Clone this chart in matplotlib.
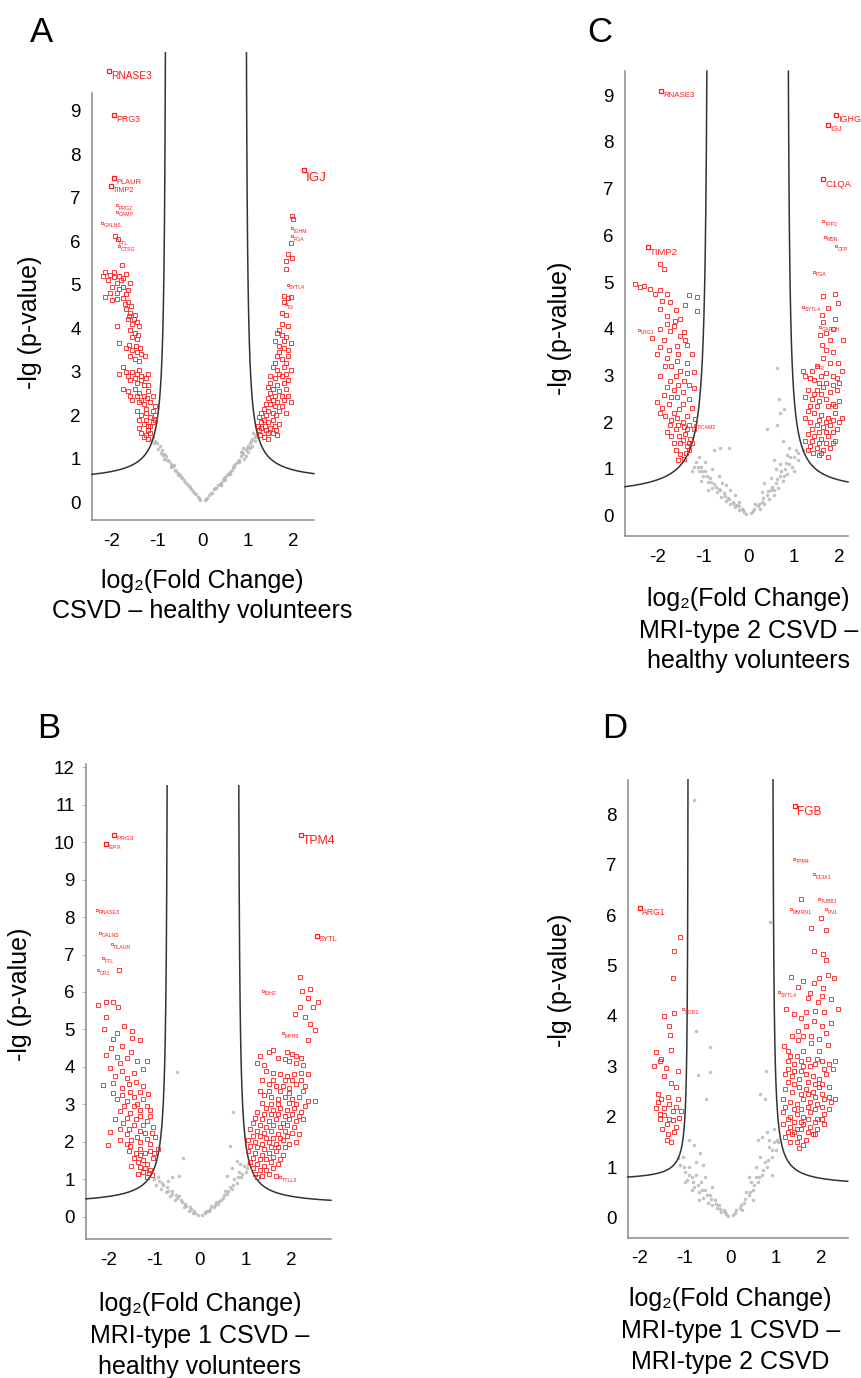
import numpy as np
import matplotlib
matplotlib.use("Agg")
import matplotlib.pyplot as plt
import matplotlib.transforms as mtransforms

plt.rcParams["font.family"] = ["Liberation Sans", "DejaVu Sans"]
plt.rcParams["axes.unicode_minus"] = False

FIG_W, FIG_H = 861, 1378

# ---------------- panel A: CSVD - healthy volunteers ----------------
A_BIG = [("RNASE3", -2.06, 9.92, 7.3), ("PRG3", -1.95, 8.90, 6.3),
         ("PLAUR", -1.95, 7.45, 5.4), ("TIMP2", -2.02, 7.26, 5.2),
         ("IGJ", 2.24, 7.63, 9.7)]
A_SMALL = [("PRG2", -1.90, 6.83), ("CAMP", -1.88, 6.68), ("GALNS", -2.23, 6.42),
           ("FTL", -1.90, 6.02), ("CTSG", -1.84, 5.88), ("IGHM", 1.97, 6.30),
           ("FGA", 1.97, 6.12), ("SYTL4", 1.88, 5.00), ("F2", 1.85, 4.55)]
A_RED_L = [(-1.93, 6.13), (-1.86, 6.05), (-1.79, 5.45),
           (-2.20, 5.20), (-2.05, 5.22), (-1.95, 5.18), (-1.85, 5.20), (-1.75, 5.15), (-1.70, 5.25),
           (-2.10, 5.10), (-1.90, 5.05), (-2.00, 4.95), (-1.85, 4.90), (-1.75, 4.95), (-1.65, 4.88),
           (-2.15, 4.72), (-2.00, 4.65), (-1.88, 4.68), (-1.75, 4.70), (-1.65, 4.60), (-1.72, 4.55),
           (-1.70, 4.45), (-1.60, 4.35), (-1.50, 4.30), (-1.65, 4.20), (-1.55, 4.10), (-1.45, 4.15),
           (-1.90, 4.05), (-1.60, 3.95), (-1.50, 3.90), (-1.42, 3.85), (-1.55, 3.80), (-1.45, 3.75),
           (-1.85, 3.65), (-1.70, 3.55), (-1.55, 3.50), (-1.45, 3.45), (-1.35, 3.40), (-1.60, 3.35),
           (-1.50, 3.30), (-1.40, 3.25), (-1.85, 2.95), (-1.75, 3.10), (-1.65, 2.90), (-1.55, 3.00),
           (-1.45, 2.95), (-1.35, 2.90), (-1.25, 2.85), (-1.60, 2.80), (-1.45, 2.75), (-1.30, 2.70),
           (-1.75, 2.60), (-1.65, 2.55), (-1.50, 2.60), (-1.40, 2.50), (-1.30, 2.45), (-1.20, 2.55),
           (-1.55, 2.35), (-1.40, 2.30), (-1.30, 2.25), (-1.15, 2.30), (-1.05, 2.20), (-1.45, 2.10),
           (-1.35, 2.00), (-1.25, 2.05), (-1.15, 1.95), (-1.05, 2.00), (-1.30, 1.80), (-1.20, 1.75),
           (-1.10, 1.85), (-1.35, 1.60), (-1.25, 1.55), (-1.15, 1.60),
           (-2.15, 5.30), (-1.95, 5.30), (-1.80, 5.10), (-1.60, 5.05), (-2.05, 4.80), (-1.90, 4.80),
           (-1.70, 4.78), (-1.58, 4.50), (-1.62, 4.28), (-1.52, 4.20), (-1.40, 4.05), (-1.48, 3.60),
           (-1.38, 3.55), (-1.62, 3.62), (-1.28, 3.35), (-1.70, 3.00), (-1.40, 3.05), (-1.20, 2.95),
           (-1.50, 2.85), (-1.35, 2.80), (-1.20, 2.70), (-1.60, 2.45), (-1.45, 2.45), (-1.22, 2.40),
           (-1.10, 2.45), (-1.35, 2.35), (-1.25, 2.15), (-1.10, 2.10), (-1.40, 1.90), (-1.25, 1.90),
           (-1.05, 1.90), (-1.15, 1.75), (-1.40, 1.70), (-1.20, 1.65), (-1.30, 1.50), (-1.20, 1.45)]
A_RED_R = [(1.97, 6.58), (2.00, 6.50), (1.95, 5.95), (1.88, 5.70), (1.98, 5.62), (1.85, 5.55),
           (1.85, 5.35), (1.80, 4.75), (1.90, 4.70), (1.95, 4.72), (1.75, 4.35), (1.85, 4.30),
           (1.65, 3.90), (1.75, 3.85), (1.85, 3.80), (1.70, 3.60), (1.80, 3.55), (1.90, 3.50),
           (1.65, 3.35), (1.75, 3.30), (1.90, 3.35), (1.55, 3.10), (1.65, 3.05), (1.80, 3.10),
           (1.95, 3.05), (1.50, 2.90), (1.60, 2.85), (1.75, 2.90), (1.90, 2.80), (1.45, 2.65),
           (1.55, 2.60), (1.70, 2.55), (1.85, 2.60), (1.45, 2.40), (1.55, 2.35), (1.65, 2.30),
           (1.80, 2.35), (1.95, 2.30), (1.35, 2.15), (1.45, 2.10), (1.55, 2.05), (1.70, 2.10),
           (1.85, 2.05), (1.25, 1.95), (1.35, 1.90), (1.45, 1.85), (1.55, 1.90), (1.70, 1.80),
           (1.22, 1.75), (1.30, 1.70), (1.40, 1.65), (1.55, 1.60), (1.65, 1.55), (1.28, 1.55),
           (1.35, 1.50), (1.45, 1.45),
           (1.60, 3.70), (1.70, 3.45), (1.85, 3.20), (1.60, 3.20), (1.70, 2.95), (1.85, 2.95),
           (1.50, 2.75), (1.65, 2.70), (1.80, 2.75), (1.50, 2.50), (1.60, 2.45), (1.75, 2.45),
           (1.90, 2.45), (1.40, 2.25), (1.50, 2.25), (1.60, 2.20), (1.75, 2.20), (1.30, 2.05),
           (1.40, 2.00), (1.62, 2.00), (1.30, 1.85), (1.60, 1.75), (1.50, 1.70), (1.25, 1.65),
           (1.45, 1.60), (1.38, 1.75), (1.62, 1.65), (1.80, 4.60), (1.75, 4.10), (1.90, 4.05),
           (1.70, 3.95), (1.80, 3.70), (1.95, 3.65)]
A_GREY = [(-0.05, 0.05), (-0.10, 0.12), (-0.15, 0.18), (-0.20, 0.25), (-0.25, 0.30), (-0.30, 0.38),
          (-0.35, 0.42), (-0.40, 0.50), (-0.45, 0.55), (-0.50, 0.62), (-0.55, 0.68), (-0.60, 0.75),
          (-0.65, 0.82), (-0.70, 0.88), (-0.75, 0.95), (-0.80, 1.05), (-0.85, 1.10), (-0.90, 1.20),
          (-0.95, 1.30), (-1.00, 1.35), (-1.05, 1.40), (-0.85, 1.00), (-1.10, 1.50), (-1.15, 1.42),
          (-0.70, 0.80), (-0.55, 0.62), (-0.92, 1.12), (-0.62, 0.85),
          (-0.08, 0.10), (-0.18, 0.22), (-0.28, 0.35), (-0.38, 0.46), (-0.48, 0.58), (-0.58, 0.72),
          (-0.68, 0.84), (-0.78, 0.98), (-0.88, 1.08), (-0.98, 1.22), (-1.08, 1.35),
          (0.05, 0.06), (0.10, 0.10), (0.15, 0.17), (0.20, 0.22), (0.25, 0.30), (0.30, 0.33),
          (0.35, 0.40), (0.40, 0.45), (0.45, 0.50), (0.50, 0.58), (0.55, 0.62), (0.60, 0.70),
          (0.65, 0.75), (0.70, 0.85), (0.75, 0.90), (0.80, 0.98), (0.85, 1.05), (0.90, 1.10),
          (0.95, 1.20), (1.00, 1.30), (1.05, 1.35), (1.10, 1.45), (1.15, 1.50), (1.20, 1.60),
          (1.25, 1.70), (0.90, 1.25), (1.00, 1.15), (1.10, 1.30), (0.70, 0.80), (0.60, 0.65),
          (0.80, 0.92), (0.95, 1.05), (1.05, 1.25), (1.15, 1.40), (0.50, 0.52), (0.40, 0.40),
          (0.08, 0.08), (0.18, 0.20), (0.28, 0.32), (0.38, 0.42), (0.48, 0.55), (0.58, 0.66),
          (0.68, 0.80), (0.78, 0.95), (0.88, 1.15), (0.98, 1.25), (1.08, 1.40), (1.18, 1.55),
          (1.12, 1.60), (1.22, 1.50), (0.92, 1.00), (0.85, 1.15)]
A_CURVE = [(0.79, 0.305, 0.455), (0.94, 0.305, 0.455)]   # (asymptote, c, offset) left/right

# ---------------- panel C: MRI-type 2 CSVD - healthy volunteers ----------------
C_BIG = [("RNASE3", -1.93, 9.09, 5.7), ("TIMP2", -2.22, 5.75, 6.8),
         ("IGHG1", 1.93, 8.58, 6.5), ("IGJ", 1.76, 8.36, 5.4), ("C1QA", 1.64, 7.20, 6.8)]
C_SMALL = [("TPP2", 1.65, 6.30), ("MSN", 1.69, 5.97), ("CFP", 1.93, 5.76), ("FGA", 1.45, 5.22),
           ("SYTL4", 1.20, 4.47), ("GAPDH", 1.58, 4.04), ("F2", 1.50, 3.22),
           ("LRG1", -2.42, 3.98), ("TICAM2", -1.18, 1.95)]
C_RED_L = [(-1.94, 5.38), (-1.87, 5.28), (-2.50, 4.96), (-2.31, 4.92), (-2.17, 4.86), (-1.94, 4.82),
           (-1.80, 4.74), (-1.32, 4.72), (-1.14, 4.67), (-1.72, 4.57), (-1.94, 4.43), (-1.39, 4.50),
           (-1.14, 4.37), (-1.80, 4.27), (-1.61, 4.17), (-2.13, 3.81), (-1.87, 3.76), (-1.72, 3.96),
           (-1.43, 3.94), (-1.58, 3.64), (-1.36, 3.66), (-2.02, 3.47), (-1.80, 3.37), (-1.58, 3.32),
           (-1.36, 3.27), (-1.21, 3.07), (-1.94, 2.98), (-1.72, 2.88), (-1.43, 2.88), (-1.21, 2.73),
           (-1.87, 2.58), (-1.58, 2.53), (-1.32, 2.49), (-2.02, 2.44), (-1.76, 2.39), (-1.54, 2.29),
           (-1.83, 2.14), (-1.58, 2.09), (-1.36, 2.14), (-1.18, 2.07), (-1.72, 1.95), (-1.43, 1.90),
           (-1.21, 1.85), (-1.80, 1.80), (-1.54, 1.70), (-1.28, 1.65), (-1.65, 1.55), (-1.36, 1.50),
           (-1.50, 1.31), (-1.30, 1.40), (-1.43, 1.21), (-1.65, 4.05), (-1.50, 3.85), (-1.95, 3.60),
           (-1.70, 3.20), (-1.50, 3.10), (-1.65, 2.70), (-1.45, 2.65), (-1.95, 2.20), (-1.65, 2.20),
           (-1.45, 2.00), (-1.30, 1.95), (-1.60, 1.85), (-1.40, 1.75), (-1.50, 1.55), (-1.25, 1.55),
           (-2.40, 4.90), (-2.05, 4.75), (-1.90, 4.60), (-1.60, 4.40), (-1.80, 4.10), (-1.50, 4.20),
           (-1.95, 4.00), (-1.40, 3.75), (-1.75, 3.55), (-1.55, 3.45), (-1.25, 3.45), (-1.85, 3.20),
           (-1.60, 3.00), (-1.35, 3.05), (-1.80, 2.75), (-1.55, 2.80), (-1.30, 2.80), (-1.70, 2.55),
           (-1.45, 2.40), (-1.25, 2.30), (-1.90, 2.30), (-1.70, 2.05), (-1.55, 1.95), (-1.35, 1.85),
           (-1.70, 1.70), (-1.45, 1.62), (-1.30, 1.55), (-1.60, 1.40), (-1.38, 1.35), (-1.55, 1.20)]
C_RED_R = [(1.65, 4.70), (1.91, 4.74), (1.98, 4.55), (1.61, 4.30), (1.65, 4.15), (1.58, 3.86),
           (1.80, 3.76), (2.09, 3.76), (1.61, 3.66), (1.64, 3.37), (1.80, 3.27), (1.98, 3.27),
           (1.90, 4.20), (1.75, 4.45), (1.25, 3.00), (1.35, 2.95), (1.45, 2.90), (1.60, 3.00),
           (1.70, 3.05), (1.85, 3.00), (1.95, 2.95), (2.05, 3.10), (1.30, 2.70), (1.50, 2.70),
           (1.65, 2.75), (1.80, 2.65), (1.95, 2.70), (1.40, 2.50), (1.55, 2.45), (1.70, 2.50),
           (1.85, 2.40), (2.00, 2.45), (1.30, 2.25), (1.45, 2.20), (1.60, 2.15), (1.75, 2.10),
           (1.90, 2.20), (2.05, 2.10), (1.35, 2.00), (1.50, 1.95), (1.65, 1.90), (1.80, 1.95),
           (1.95, 1.85), (1.30, 1.75), (1.45, 1.70), (1.60, 1.65), (1.75, 1.70), (1.90, 1.60),
           (1.35, 1.50), (1.50, 1.45), (1.65, 1.40), (1.80, 1.45), (1.55, 1.30), (1.75, 1.25),
           (1.42, 1.35),
           (1.20, 3.10), (1.40, 3.10), (1.55, 2.85), (1.70, 2.85), (1.85, 2.80), (2.00, 2.85),
           (1.25, 2.55), (1.45, 2.60), (1.60, 2.60), (1.75, 2.35), (1.90, 2.35), (1.50, 2.35),
           (1.35, 2.35), (1.25, 2.10), (1.55, 2.05), (1.70, 2.00), (1.85, 2.05), (2.00, 2.00),
           (1.40, 1.85), (1.55, 1.80), (1.70, 1.80), (1.85, 1.80), (1.25, 1.60), (1.40, 1.60),
           (1.55, 1.55), (1.70, 1.55), (1.85, 1.55), (1.30, 1.40), (1.60, 1.35), (1.70, 3.55),
           (1.85, 3.50), (1.70, 3.90), (1.85, 4.00), (1.50, 3.20)]
C_GREY = [(-0.05, 0.04), (-0.10, 0.08), (-0.15, 0.15), (-0.20, 0.12), (-0.25, 0.22), (-0.30, 0.18),
          (-0.35, 0.30), (-0.40, 0.25), (-0.45, 0.38), (-0.50, 0.32), (-0.55, 0.48), (-0.60, 0.40),
          (-0.65, 0.58), (-0.70, 0.50), (-0.75, 0.68), (-0.80, 0.60), (-0.85, 0.80), (-0.90, 0.72),
          (-0.95, 0.95), (-1.00, 0.85), (-1.05, 1.05), (-1.10, 0.95), (-1.15, 1.15), (-1.20, 1.05),
          (-1.10, 1.25), (-0.95, 1.15), (-0.80, 1.00), (-0.65, 0.85), (-0.50, 0.65), (-0.77, 1.40),
          (-0.62, 1.45), (-0.44, 1.45), (-0.30, 0.45), (-0.20, 0.30), (-0.40, 0.55), (-0.58, 0.70),
          (-1.25, 0.95), (-1.05, 0.75), (-0.90, 0.55),
          (-0.12, 0.12), (-0.22, 0.20), (-0.32, 0.25), (-0.42, 0.35), (-0.52, 0.42), (-0.62, 0.55),
          (-0.72, 0.62), (-0.82, 0.72), (-0.92, 0.85), (-1.02, 0.95), (-1.12, 1.05),
          (0.05, 0.05), (0.10, 0.10), (0.20, 0.20), (0.25, 0.15), (0.30, 0.30), (0.40, 0.45),
          (0.45, 0.35), (0.50, 0.55), (0.55, 0.45), (0.60, 0.70), (0.65, 0.60), (0.70, 0.85),
          (0.75, 0.75), (0.80, 1.00), (0.85, 0.90), (0.90, 1.10), (1.00, 1.25), (1.10, 1.35),
          (1.20, 1.40), (0.30, 0.50), (0.50, 0.80), (0.70, 1.10), (0.85, 1.30), (0.60, 1.00),
          (1.00, 0.95), (0.90, 1.45), (0.75, 1.60), (0.55, 1.20), (0.40, 1.85), (0.62, 1.95),
          (0.70, 2.19), (0.77, 2.29), (0.68, 2.49), (0.62, 3.17), (0.35, 0.70), (0.15, 0.25),
          (0.12, 0.15), (0.22, 0.25), (0.32, 0.38), (0.42, 0.52), (0.52, 0.62), (0.62, 0.78),
          (0.72, 0.95), (0.82, 1.12), (0.92, 1.25), (1.05, 1.40), (0.35, 0.25), (0.55, 0.55),
          (0.78, 0.85), (0.95, 1.05), (1.10, 1.20)]
C_CURVE = [(0.87, 0.436, 0.385), (0.84, 0.336, 0.473)]

# ---------------- panel B: MRI-type 1 CSVD - healthy volunteers ----------------
B_BIG = [("TPM4", 2.20, 10.20, 8.8), ("SYTL", 2.55, 7.50, 5.4),
         ("PRG3", -1.87, 10.18, 4.6), ("EPX", -2.05, 9.96, 4.6)]
B_SMALL = [("RNASE3", -2.25, 8.19), ("GALNS", -2.18, 7.58), ("PLAUR", -1.91, 7.28),
           ("FTL", -2.11, 6.90), ("CR1", -2.23, 6.58), ("IDH2", 1.38, 6.03),
           ("MYH9", 1.80, 4.90), ("TTLL3", 1.75, 1.05)]
B_RED_L = [(-1.76, 6.60), (-2.04, 5.74), (-1.89, 5.72), (-2.22, 5.65), (-1.78, 5.59), (-2.05, 5.34),
           (-1.66, 5.09), (-1.49, 4.96), (-1.89, 4.74), (-1.49, 4.77), (-1.31, 4.71), (-2.04, 4.33),
           (-1.82, 4.27), (-1.60, 4.23), (-1.38, 4.15), (-1.16, 4.15), (-1.96, 3.96), (-1.71, 3.89),
           (-1.45, 3.83), (-2.11, 3.52), (-1.89, 3.58), (-1.71, 3.45), (-1.53, 3.33), (-1.31, 3.33),
           (-1.13, 3.27), (-1.82, 3.14), (-1.60, 3.08), (-1.38, 3.02), (-1.16, 2.95), (-1.75, 2.83),
           (-1.53, 2.76), (-1.31, 2.70), (-1.09, 2.70), (-1.67, 2.51), (-1.45, 2.45), (-1.24, 2.45),
           (-1.02, 2.39), (-1.96, 2.26), (-1.60, 2.20), (-1.38, 2.14), (-1.16, 2.07), (-0.98, 2.14),
           (-2.00, 1.92), (-1.53, 1.88), (-1.31, 1.82), (-1.09, 1.76), (-0.92, 1.82), (-1.45, 1.57),
           (-1.24, 1.51), (-1.02, 1.57), (-1.31, 1.32), (-1.09, 1.26), (-1.16, 1.07), (-1.05, 1.12),
           (-1.85, 3.75), (-1.60, 3.70), (-1.40, 3.60), (-1.90, 3.30), (-1.45, 2.95), (-1.85, 2.60),
           (-1.20, 2.25), (-1.75, 2.05), (-1.60, 1.95), (-1.40, 1.70), (-1.20, 1.70), (-1.35, 1.45),
           (-1.15, 1.40), (-1.25, 1.20),
           (-2.10, 5.00), (-1.80, 4.90), (-1.70, 4.55), (-1.95, 4.50), (-1.50, 4.40), (-1.75, 4.10),
           (-1.25, 3.95), (-1.55, 3.55), (-1.25, 3.50), (-1.70, 3.25), (-1.45, 3.20), (-1.25, 3.15),
           (-1.65, 2.95), (-1.30, 2.85), (-1.10, 2.85), (-1.60, 2.65), (-1.40, 2.60), (-1.15, 2.55),
           (-1.75, 2.35), (-1.55, 2.35), (-1.30, 2.30), (-1.05, 2.25), (-1.50, 2.05), (-1.30, 2.00),
           (-1.10, 1.95), (-1.55, 1.75), (-1.30, 1.65), (-1.00, 1.70), (-1.50, 1.35), (-1.20, 1.30),
           (-1.35, 1.15), (-1.12, 1.18)]
B_RED_R = [(2.18, 6.41), (2.40, 6.09), (2.22, 6.03), (2.36, 5.84), (2.58, 5.72), (2.18, 5.59),
           (2.47, 5.59), (2.07, 5.40), (2.29, 5.34), (2.40, 5.15), (2.51, 4.99), (2.36, 4.71),
           (1.50, 4.40), (1.60, 4.45), (1.90, 4.40), (2.00, 4.35), (2.10, 4.30), (1.25, 4.10),
           (1.40, 4.05), (1.95, 4.15), (2.10, 4.10), (2.25, 4.05), (1.60, 3.85), (1.75, 3.80),
           (1.90, 3.75), (2.05, 3.80), (2.20, 3.85), (1.50, 3.55), (1.65, 3.50), (1.80, 3.50),
           (1.95, 3.45), (2.10, 3.55), (2.30, 3.50), (1.40, 3.25), (1.55, 3.20), (1.70, 3.15),
           (1.85, 3.20), (2.00, 3.15), (2.15, 3.20), (2.35, 3.10), (2.50, 3.10), (1.45, 2.90),
           (1.60, 2.85), (1.75, 2.90), (1.90, 2.85), (2.05, 2.90), (2.20, 2.80), (1.20, 2.65),
           (1.35, 2.60), (1.50, 2.55), (1.65, 2.60), (1.80, 2.50), (1.95, 2.60), (2.10, 2.55),
           (2.25, 2.60), (1.10, 2.35), (1.25, 2.30), (1.40, 2.25), (1.55, 2.30), (1.70, 2.20),
           (1.85, 2.30), (2.00, 2.25), (2.15, 2.20), (1.05, 2.05), (1.20, 2.00), (1.35, 1.95),
           (1.50, 2.00), (1.65, 1.95), (1.80, 2.05), (1.95, 1.95), (2.10, 2.00), (1.05, 1.75),
           (1.20, 1.70), (1.35, 1.65), (1.50, 1.70), (1.65, 1.75), (1.80, 1.65), (1.10, 1.45),
           (1.25, 1.40), (1.40, 1.35), (1.55, 1.45), (1.70, 1.40), (1.20, 1.15), (1.35, 1.10),
           (1.50, 1.15), (1.65, 1.10),
           (1.30, 4.30), (1.70, 4.25), (1.85, 4.20), (2.20, 4.25), (1.45, 3.90), (2.35, 3.80),
           (1.35, 3.65), (1.60, 3.65), (1.85, 3.65), (2.00, 3.65), (2.20, 3.65), (1.30, 3.35),
           (1.50, 3.35), (1.75, 3.35), (1.95, 3.30), (2.25, 3.35), (1.35, 3.05), (1.55, 3.00),
           (1.70, 3.00), (1.95, 3.05), (2.10, 3.00), (2.30, 2.95), (1.25, 2.80), (1.40, 2.75),
           (1.55, 2.75), (1.70, 2.75), (1.85, 2.70), (2.00, 2.75), (2.15, 2.70), (1.15, 2.50),
           (1.30, 2.45), (1.45, 2.40), (1.60, 2.45), (1.75, 2.40), (1.90, 2.45), (2.05, 2.40),
           (1.15, 2.15), (1.30, 2.15), (1.45, 2.10), (1.60, 2.10), (1.75, 2.10), (1.90, 2.15),
           (1.10, 1.90), (1.25, 1.85), (1.40, 1.80), (1.55, 1.85), (1.70, 1.85), (1.85, 1.85),
           (1.15, 1.58), (1.30, 1.55), (1.45, 1.55), (1.60, 1.60), (1.75, 1.55), (1.15, 1.30),
           (1.30, 1.25), (1.45, 1.25), (1.60, 1.30), (1.25, 1.05)]
B_GREY = [(-0.10, 0.10), (-0.20, 0.20), (-0.30, 0.30), (-0.40, 0.40), (-0.50, 0.50), (-0.60, 0.60),
          (-0.70, 0.70), (-0.80, 0.85), (-0.90, 0.95), (-0.45, 0.55), (-0.55, 0.45), (-0.65, 0.55),
          (-0.75, 0.65), (-0.35, 0.25), (-0.25, 0.15), (-0.15, 0.10), (-0.85, 0.75), (-1.00, 1.00),
          (-0.95, 0.85), (-0.51, 3.86), (-0.36, 1.57), (-0.60, 1.05), (-0.70, 0.95), (-0.05, 0.05),
          (-0.12, 0.15), (-0.22, 0.25), (-0.32, 0.35), (-0.42, 0.45), (-0.52, 0.58), (-0.62, 0.68),
          (-0.72, 0.80), (-0.82, 0.90), (-0.92, 1.05), (-0.45, 1.10),
          (0.10, 0.10), (0.20, 0.15), (0.30, 0.25), (0.40, 0.35), (0.50, 0.50), (0.60, 0.60),
          (0.70, 0.75), (0.80, 0.90), (0.90, 1.05), (1.00, 1.20), (0.35, 0.40), (0.45, 0.45),
          (0.55, 0.70), (0.65, 0.80), (0.75, 1.00), (0.85, 1.20), (0.95, 1.35), (1.05, 1.40),
          (0.70, 1.30), (0.80, 1.50), (0.60, 1.10), (0.71, 2.79), (0.65, 1.88), (0.05, 0.05),
          (0.25, 0.30), (0.15, 0.15), (0.12, 0.12), (0.22, 0.22), (0.32, 0.32), (0.42, 0.42),
          (0.52, 0.58), (0.62, 0.70), (0.72, 0.85), (0.82, 1.05), (0.92, 1.15), (1.02, 1.30),
          (0.88, 1.40)]
B_CURVE = [(0.69, 0.303, 0.311), (0.82, 0.296, 0.295)]

# ---------------- panel D: MRI-type 1 CSVD - MRI-type 2 CSVD ----------------
D_BIG = [("FGB", 1.42, 8.17, 8.5), ("ARG1", -1.98, 6.14, 6.2)]
D_SMALL = [("TPM4", 1.39, 7.12), ("F13A1", 1.83, 6.81), ("TUBB1", 1.95, 6.32),
           ("MMRN1", 1.33, 6.12), ("FN1", 2.10, 6.12), ("SYTL4", 1.07, 4.47), ("SOD1", -1.05, 4.13)]
D_RED_L = [(-1.10, 5.56), (-1.24, 5.28), (-1.27, 4.75), (-1.46, 3.99), (-1.32, 3.63), (-1.63, 3.29),
           (-1.30, 3.33), (-1.52, 3.15), (-1.68, 3.01), (-1.41, 2.96), (-1.16, 2.91), (-1.30, 2.68),
           (-1.52, 2.35), (-1.37, 2.40), (-1.16, 2.35), (-1.63, 2.17), (-1.45, 2.17), (-1.27, 2.12),
           (-1.08, 2.12), (-1.45, 2.03), (-1.27, 1.93), (-1.12, 1.98), (-1.37, 1.65), (-1.30, 1.51),
           (-1.55, 2.05), (-1.40, 1.85), (-1.20, 1.80),
           (-1.35, 3.80), (-1.55, 3.10), (-1.45, 2.80), (-1.20, 2.60), (-1.60, 2.45), (-1.35, 2.25),
           (-1.20, 2.20), (-1.55, 1.95), (-1.35, 1.95), (-1.50, 1.75), (-1.25, 1.70), (-1.40, 1.55),
           (-1.60, 2.30), (-1.25, 4.05)]
D_RED_R = [(1.54, 6.32), (1.99, 5.95), (1.77, 5.74), (2.10, 5.71), (1.84, 5.28), (2.03, 5.22),
           (2.10, 5.11), (1.33, 4.78), (1.84, 4.66), (2.14, 4.81), (2.28, 4.75), (1.48, 4.57),
           (2.03, 4.55), (1.70, 4.36), (1.92, 4.27), (2.21, 4.34), (1.22, 4.13), (1.40, 4.03),
           (1.66, 4.08), (2.06, 4.08), (2.35, 4.13), (1.84, 3.89), (2.21, 3.85), (1.48, 3.71),
           (1.77, 3.61), (2.10, 3.66), (1.18, 3.41), (1.48, 3.52), (1.77, 3.47), (2.14, 3.43),
           (1.25, 3.10), (1.40, 3.05), (1.55, 3.10), (1.70, 3.15), (1.85, 3.05), (2.00, 3.10),
           (2.15, 3.05), (2.30, 3.10), (1.20, 2.85), (1.35, 2.80), (1.50, 2.75), (1.65, 2.85),
           (1.80, 2.80), (1.95, 2.75), (2.10, 2.85), (1.20, 2.55), (1.35, 2.50), (1.50, 2.60),
           (1.65, 2.55), (1.80, 2.50), (1.95, 2.60), (1.15, 2.35), (1.30, 2.30), (1.45, 2.25),
           (1.60, 2.35), (1.75, 2.30), (1.90, 2.25), (2.05, 2.35), (2.20, 2.30), (1.15, 2.10),
           (1.30, 2.00), (1.45, 2.05), (1.60, 2.00), (1.75, 2.10), (1.90, 1.95), (2.05, 2.05),
           (1.15, 1.85), (1.30, 1.80), (1.45, 1.75), (1.60, 1.85), (1.75, 1.80), (1.90, 1.75),
           (2.05, 1.85), (1.20, 1.60), (1.35, 1.65), (1.50, 1.60), (1.65, 1.55), (1.80, 1.65),
           (1.51, 1.39),
           (1.30, 3.20), (1.45, 3.20), (1.60, 3.00), (1.75, 3.00), (1.90, 3.15), (2.05, 2.95),
           (2.25, 2.95), (1.25, 2.95), (1.40, 2.90), (1.55, 2.90), (1.70, 2.70), (1.85, 2.65),
           (2.00, 2.65), (2.15, 2.60), (1.25, 2.70), (1.40, 2.65), (1.55, 2.45), (1.70, 2.45),
           (1.85, 2.40), (2.00, 2.45), (2.15, 2.40), (2.30, 2.35), (1.20, 2.20), (1.40, 2.15),
           (1.55, 2.15), (1.70, 2.20), (1.85, 2.15), (2.00, 2.20), (2.15, 2.15), (1.25, 1.95),
           (1.40, 1.90), (1.55, 1.90), (1.70, 1.95), (1.85, 1.90), (2.00, 1.95), (1.25, 1.70),
           (1.40, 1.70), (1.55, 1.75), (1.70, 1.70), (1.85, 1.65), (1.30, 1.50), (1.45, 1.50),
           (1.60, 1.45), (1.25, 3.30), (1.60, 3.30), (1.95, 3.30), (1.35, 3.60), (1.60, 3.60),
           (1.95, 3.55), (1.65, 3.80), (2.00, 3.80), (1.55, 3.95), (1.85, 4.10), (1.75, 4.45),
           (2.00, 4.40), (1.95, 4.75), (1.60, 4.70)]
D_GREY = [(-0.79, 8.28), (0.86, 5.87), (-0.75, 3.71), (-0.46, 3.38), (-0.46, 2.89), (-0.72, 2.82),
          (-0.53, 2.35), (0.78, 2.91), (0.64, 2.45), (0.75, 2.35), (-0.68, 1.28), (-1.16, 1.19),
          (-0.90, 1.55), (-0.80, 1.45), (-1.00, 0.90), (-0.95, 0.75), (-0.90, 1.00), (-0.85, 0.80),
          (-0.80, 0.60), (-0.75, 0.85), (-0.70, 0.50), (-0.65, 0.70), (-0.60, 0.40), (-0.55, 0.55),
          (-0.50, 0.30), (-0.45, 0.45), (-0.40, 0.25), (-0.35, 0.35), (-0.30, 0.20), (-0.25, 0.25),
          (-0.20, 0.12), (-0.15, 0.15), (-0.10, 0.08), (-0.05, 0.04), (-1.10, 1.05), (-1.05, 1.20),
          (-0.60, 1.05), (-0.40, 0.60), (-0.85, 0.55), (-1.00, 0.70), (-0.70, 0.35),
          (-0.12, 0.12), (-0.22, 0.18), (-0.32, 0.28), (-0.42, 0.38), (-0.52, 0.45), (-0.62, 0.55),
          (-0.72, 0.65), (-0.82, 0.70), (-0.92, 0.85), (-1.02, 1.00), (-0.75, 1.10), (-0.55, 0.80),
          (0.05, 0.05), (0.10, 0.10), (0.20, 0.20), (0.30, 0.30), (0.40, 0.45), (0.50, 0.55),
          (0.60, 0.70), (0.70, 0.85), (0.80, 1.00), (0.90, 1.20), (1.00, 1.35), (0.35, 0.50),
          (0.55, 0.80), (0.75, 1.10), (0.85, 1.40), (0.95, 1.50), (0.65, 1.20), (0.45, 0.70),
          (1.05, 1.50), (0.70, 1.60), (0.80, 1.70), (0.60, 1.55), (0.25, 0.15), (0.50, 0.35),
          (0.90, 0.85), (0.12, 0.15), (0.22, 0.25), (0.32, 0.38), (0.42, 0.50), (0.52, 0.65),
          (0.62, 0.80), (0.72, 0.95), (0.82, 1.15), (0.92, 1.35), (1.02, 1.55), (0.95, 1.75),
          (0.85, 1.55), (0.55, 1.00), (0.40, 0.80)]
D_CURVE = [(0.92, 0.102, 0.73), (0.91, 0.177, 0.615)]

RED = "#ff1a1a"
GREY = "#bdbdbd"


def px(x, y):
    return x / FIG_W, 1 - y / FIG_H


def make_axes(fig, left, top, right, bottom):
    return fig.add_axes([left / FIG_W, 1 - bottom / FIG_H, (right - left) / FIG_W, (bottom - top) / FIG_H])


def draw_panel(ax, xlim, ylim, spine_top, curve_top, yticks, curve, grey, red_l, red_r, small, big,
               ytick_len=0):
    ax.set_xlim(*xlim)
    ax.set_ylim(*ylim)
    ax.patch.set_alpha(0)
    for s in ("top", "right"):
        ax.spines[s].set_visible(False)
    for s in ("left", "bottom"):
        ax.spines[s].set_color("#8a8a8a")
        ax.spines[s].set_linewidth(1.1)
    ax.spines["left"].set_bounds(ylim[0], spine_top)
    ax.set_xticks([-2, -1, 0, 1, 2])
    ax.set_yticks(yticks)
    ax.tick_params(axis="x", length=0, pad=9, labelsize=13.5)
    ax.tick_params(axis="y", length=ytick_len, width=0.6, color="#9fb0c0", pad=8 - ytick_len,
                   labelsize=13.5)

    gx, gy = zip(*grey)
    ax.plot(gx, gy, "o", ms=2.2, mfc=GREY, mec="#b0b0b0", mew=0.3, alpha=0.85, zorder=2)

    # significance threshold curves
    for side, (a, c, b) in zip((-1, 1), curve):
        edge = abs(xlim[0]) if side < 0 else xlim[1]
        y0 = b + c / (edge - a)
        yy = np.linspace(y0, curve_top, 600)
        xx = a + c / (yy - b)
        ax.plot(side * xx, yy, color="#333333", lw=1.1, zorder=3, clip_on=False)

    for pts in (red_l, red_r):
        rx, ry = zip(*pts)
        ax.plot(rx, ry, "s", ms=2.4, mfc="none", mec=RED, mew=0.6, zorder=4)

    for name, x, y in small:
        ax.plot(x, y, "s", ms=1.8, mfc="none", mec=RED, mew=0.5, zorder=5, clip_on=False)
        ax.annotate(name, (x, y), xytext=(1.2, -2.2), textcoords="offset points", ha="left",
                    va="center", color=RED, fontsize=3.8, annotation_clip=False, zorder=5)
    for name, x, y, size in big:
        ax.plot(x, y, "s", ms=3.0, mfc="none", mec=RED, mew=0.9, zorder=5, clip_on=False)
        ax.annotate(name, (x, y), xytext=(1.5, -0.55 * size), textcoords="offset points",
                    ha="left", va="center", color=RED, fontsize=size, annotation_clip=False,
                    zorder=5)


def panel_text(fig, ax, letter, letter_xy, xlab_lines, xlab_ys, ylab_xy):
    fig.text(*px(*letter_xy), letter, fontsize=25, ha="center", va="center")
    trans = mtransforms.blended_transform_factory(ax.transData, fig.transFigure)
    for line, y in zip(xlab_lines, xlab_ys):
        ax.text(0, 1 - y / FIG_H, line, transform=trans, ha="center", va="center", fontsize=18,
                clip_on=False)
    fig.text(*px(*ylab_xy), "-lg (p-value)", rotation=90, ha="center", va="center", fontsize=18)


fig = plt.figure(figsize=(FIG_W / 100, FIG_H / 100), dpi=100)

ax_a = make_axes(fig, 92, 49.8, 314, 520)
draw_panel(ax_a, (-2.443, 2.464), (-0.41, 10.4), 9.41, 10.33, range(0, 10), A_CURVE,
           A_GREY, A_RED_L, A_RED_R, A_SMALL, A_BIG)
panel_text(fig, ax_a, "A", (42, 32), ["log₂(Fold Change)", "CSVD – healthy volunteers"],
           [581, 611], (30, 322))

ax_c = make_axes(fig, 625, 71.2, 848, 536.3)
draw_panel(ax_c, (-2.72, 2.19), (-0.44, 9.51), 9.51, 9.51, range(0, 10), C_CURVE,
           C_GREY, C_RED_L, C_RED_R, C_SMALL, C_BIG)
panel_text(fig, ax_c, "C", (600, 32),
           ["log₂(Fold Change)", "MRI-type 2 CSVD –", "healthy volunteers"],
           [599, 631, 661], (560, 328))

ax_b = make_axes(fig, 86, 763.8, 331, 1239.3)
draw_panel(ax_b, (-2.487, 2.858), (-0.60, 12.09), 12.09, 11.5, range(0, 13), B_CURVE,
           B_GREY, B_RED_L, B_RED_R, B_SMALL, B_BIG, ytick_len=3)
panel_text(fig, ax_b, "B", (49, 728),
           ["log₂(Fold Change)", "MRI-type 1 CSVD –", "healthy volunteers"],
           [1304, 1336, 1367], (20, 994))

ax_d = make_axes(fig, 627.7, 779.8, 847.7, 1237.9)
draw_panel(ax_d, (-2.255, 2.57), (-0.40, 8.68), 8.68, 8.68, range(0, 9), D_CURVE,
           D_GREY, D_RED_L, D_RED_R, D_SMALL, D_BIG)
panel_text(fig, ax_d, "D", (615, 728),
           ["log₂(Fold Change)", "MRI-type 1 CSVD –", "MRI-type 2 CSVD"],
           [1299, 1331, 1362], (560, 980))

fig.savefig("out.png", dpi=100)
